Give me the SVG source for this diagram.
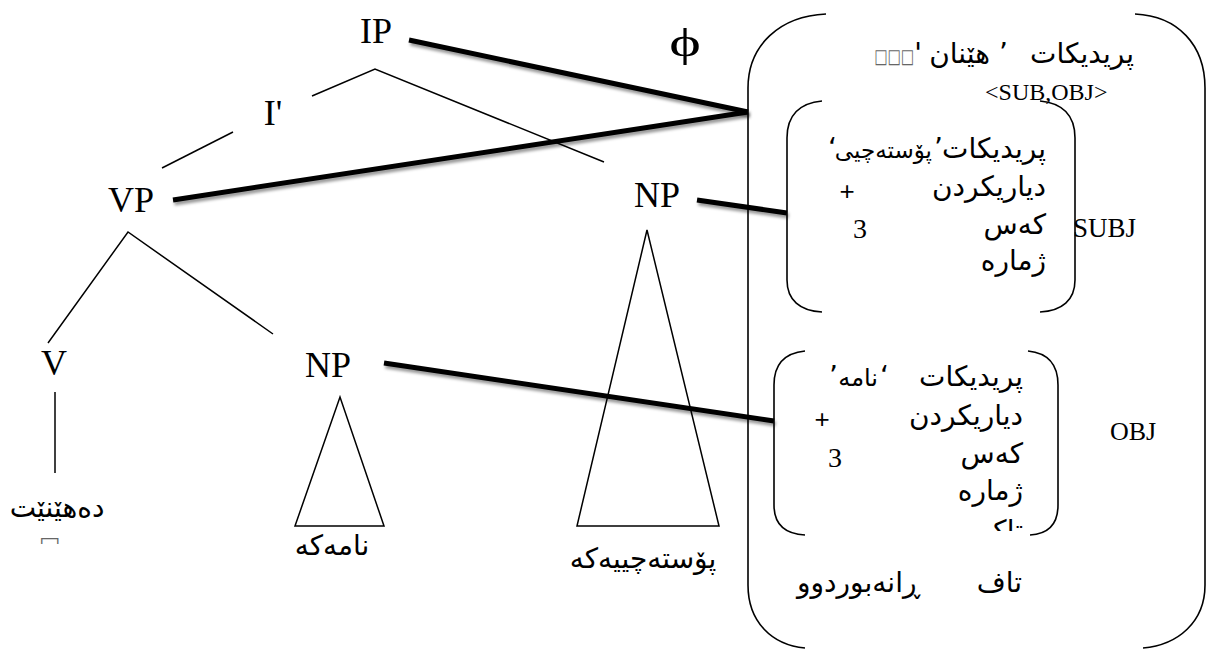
<svg xmlns="http://www.w3.org/2000/svg" width="1207" height="649" viewBox="0 0 1207 649">
<style>
.lat{font-family:"Liberation Serif","Times New Roman",serif;fill:#000}
.tree{font-size:36px}
.ar{font-family:"DejaVu Sans",sans-serif;font-size:28px;fill:#000}
.plus{font-family:"Liberation Sans",Arial,sans-serif;font-size:26px;fill:#000}
.thin{stroke:#000;stroke-width:1.5;fill:none}
.br{stroke:#000;stroke-width:1.6;fill:none}
.thick{stroke:#000;stroke-width:5;fill:none;filter:url(#sh)}
.tofu{font-family:"DejaVu Sans",sans-serif;fill:#666}
</style>
<defs>
<filter id="sh" filterUnits="userSpaceOnUse" x="0" y="0" width="1207" height="649">
<feDropShadow dx="1.5" dy="3" stdDeviation="1.6" flood-color="#000" flood-opacity="0.4"/>
</filter>
<clipPath id="clipTak"><rect x="900" y="500" width="200" height="31"/></clipPath>
<clipPath id="clipTofu"><rect x="30" y="520" width="40" height="24"/></clipPath>
</defs>
<rect width="1207" height="649" fill="#fff"/>

<g id="tree-lines">
<path class="thin" d="M312,96 L375,69 L604,162"/>
<path class="thin" d="M233,132 L162,168"/>
<path class="thin" d="M48,343 L128,232 L273,334"/>
<path class="thin" d="M55,392 L55,473"/>
<path class="thin" d="M295,526 L340,397 L384,526 Z"/>
<path class="thin" d="M577,526 L647,230 L719,526 Z"/>
</g>

<g id="node-IP"><text class="lat tree" x="376" y="43" text-anchor="middle">IP</text></g>
<g id="node-Ibar"><text class="lat tree" x="273" y="125" text-anchor="middle">I'</text></g>
<g id="node-VP"><text class="lat tree" x="131" y="212" text-anchor="middle">VP</text></g>
<g id="node-NP1"><text class="lat tree" x="657" y="207" text-anchor="middle">NP</text></g>
<g id="node-V"><text class="lat tree" x="54" y="375" text-anchor="middle">V</text></g>
<g id="node-NP2"><text class="lat tree" x="328" y="377" text-anchor="middle">NP</text></g>
<g id="phi"><text class="lat" transform="translate(685,56) scale(1.5,1)" x="0" y="0" font-size="40" text-anchor="middle">ϕ</text></g>

<g id="word-verb">
<text class="ar" x="57" y="517" text-anchor="middle">دەهێنێت</text>
<text class="tofu" x="39" y="553" font-size="23" clip-path="url(#clipTofu)">□</text>
</g>
<g id="word-letter"><text class="ar" x="332" y="555" text-anchor="middle">نامەکە</text></g>
<g id="word-postman"><text class="ar" x="643" y="568" text-anchor="middle">پۆستەچییەکە</text></g>

<g id="fstruct-outer">
<path class="br" d="M826,14 C780,16 748,45 748,88 L748,585 C748,622 772,645 805,648"/>
<path class="br" d="M1135,14 C1178,16 1205,45 1205,88 L1205,585 C1205,622 1178,645 1143,648"/>
<text class="ar" x="1134" y="63" text-anchor="end">پریدیکات</text>
<text class="ar" x="1008" y="63" text-anchor="end">’</text>
<text class="ar" x="990" y="63" text-anchor="end">هێنان</text>
<text class="ar" x="922" y="63" text-anchor="end">'</text>
<text class="tofu" transform="translate(914,63) scale(1,1.4)" x="0" y="0" font-size="14" text-anchor="end">□□□</text>
<text class="lat" x="985" y="100" font-size="24">&lt;SUB,OBJ&gt;</text>
<text class="ar" x="1022" y="592" text-anchor="end">تاف</text>
<text class="ar" x="920" y="592" text-anchor="end">ڕانەبوردوو</text>
</g>

<g id="fstruct-subj">
<path class="br" d="M822,101 C800,103 787,115 787,138 L787,280 C787,300 800,311 822,312"/>
<path class="br" d="M1040,101 C1062,103 1075,115 1075,138 L1075,280 C1075,300 1062,311 1040,312"/>
<text class="ar" x="1046" y="158" text-anchor="end">پریدیکات</text>
<text class="ar" x="943" y="158" text-anchor="end">’</text>
<text class="ar" x="932" y="158" style="font-size:23px" text-anchor="end">پۆستەچیی</text>
<text class="ar" x="837" y="158" text-anchor="end">‘</text>
<text class="ar" x="1046" y="196" text-anchor="end">دیاریکردن</text>
<text class="plus" x="847" y="200" text-anchor="middle">+</text>
<text class="ar" x="1046" y="234" text-anchor="end">کەس</text>
<text class="lat" x="853" y="238" font-size="28">3</text>
<text class="ar" x="1046" y="270" text-anchor="end">ژمارە</text>
<text class="lat" x="1073" y="237" font-size="27">SUBJ</text>
</g>

<g id="fstruct-obj">
<path class="br" d="M805,351 C785,353 774,364 774,385 L774,505 C774,525 785,534 805,535"/>
<path class="br" d="M1028,351 C1048,353 1058,364 1058,385 L1058,505 C1058,525 1048,534 1030,535"/>
<text class="ar" x="1023" y="386" text-anchor="end">پریدیکات</text>
<text class="ar" x="889" y="386" text-anchor="end">‘</text>
<text class="ar" x="878" y="386" style="font-size:24px" text-anchor="end">نامه</text>
<text class="ar" x="838" y="386" text-anchor="end">’</text>
<text class="ar" x="1023" y="425" text-anchor="end">دیاریکردن</text>
<text class="plus" x="822" y="428" text-anchor="middle">+</text>
<text class="ar" x="1023" y="463" text-anchor="end">کەس</text>
<text class="lat" x="828" y="467" font-size="28">3</text>
<text class="ar" x="1023" y="500" text-anchor="end">ژمارە</text>
<text class="ar" x="1023" y="540" text-anchor="end" clip-path="url(#clipTak)">تاک</text>
<text class="lat" x="1110" y="440" font-size="26">OBJ</text>
</g>

<g id="connectors">
<line class="thick" x1="409" y1="40" x2="748" y2="112"/>
<line class="thick" x1="173" y1="200" x2="748" y2="112"/>
<line class="thick" x1="697" y1="200" x2="787" y2="213"/>
<line class="thick" x1="384" y1="363" x2="774" y2="421"/>
</g>
</svg>
